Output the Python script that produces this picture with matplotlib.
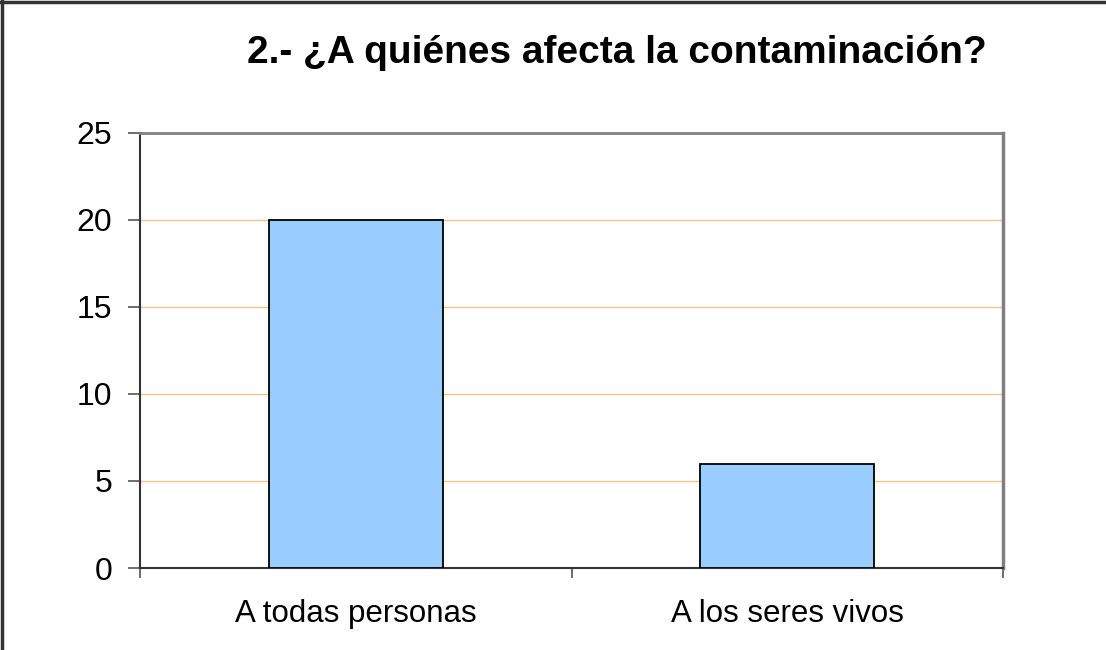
import matplotlib.pyplot as plt

categorias = ["A todas personas", "A los seres vivos"]
valores = [20, 6]
yticks = [0, 5, 10, 15, 20, 25]

plt.rcParams['font.family'] = ['Liberation Sans', 'DejaVu Sans']

fig = plt.figure(figsize=(11.06, 6.5), dpi=100)
ax = fig.add_axes([140/1106, 1-568/650, (1003-140)/1106, (568-133)/650])

x = range(len(categorias))
ax.bar(x, valores, width=0.403, color='#99CCFF', edgecolor='black', linewidth=1.3, zorder=3)

ax.set_xlim(-0.5, 1.5)
ax.set_ylim(0, 25)
ax.set_yticks(yticks)
ax.set_yticklabels([str(v) for v in yticks], fontsize=23)
ax.yaxis.grid(True, color='#F5C58A', linewidth=1, zorder=0)

# category labels between boundary ticks
ax.set_xticks([-0.5, 0.5, 1.5])
ax.set_xticklabels([])
ax.set_xticks(list(x), minor=True)
ax.set_xticklabels(categorias, minor=True, fontsize=22.5)
ax.tick_params(axis='x', which='minor', length=0, pad=22)
ax.tick_params(axis='x', which='major', length=7, width=1.2, color='#555555')
ax.tick_params(axis='y', length=8.6, width=1.2, color='#555555', pad=11.5)

ax.spines['left'].set_color('#333333')
ax.spines['left'].set_linewidth(1.5)
ax.spines['bottom'].set_color('#333333')
ax.spines['bottom'].set_linewidth(1.5)
ax.spines['top'].set_color('#808080')
ax.spines['top'].set_linewidth(2)
ax.spines['right'].set_color('#808080')
ax.spines['right'].set_linewidth(2.5)

fig.text(617/1106, 1-63/650, "2.- ¿A quiénes afecta la contaminación?",
         fontsize=28, fontweight='bold', ha='center', va='baseline')

# outer chart border (cropped: only left and top visible)
fig.add_artist(plt.Line2D([0.002, 0.002], [0, 1], color='#333333', linewidth=2.5, transform=fig.transFigure))
fig.add_artist(plt.Line2D([0, 1], [0.997, 0.997], color='#333333', linewidth=2.5, transform=fig.transFigure))

fig.savefig('out.png', dpi=100)
